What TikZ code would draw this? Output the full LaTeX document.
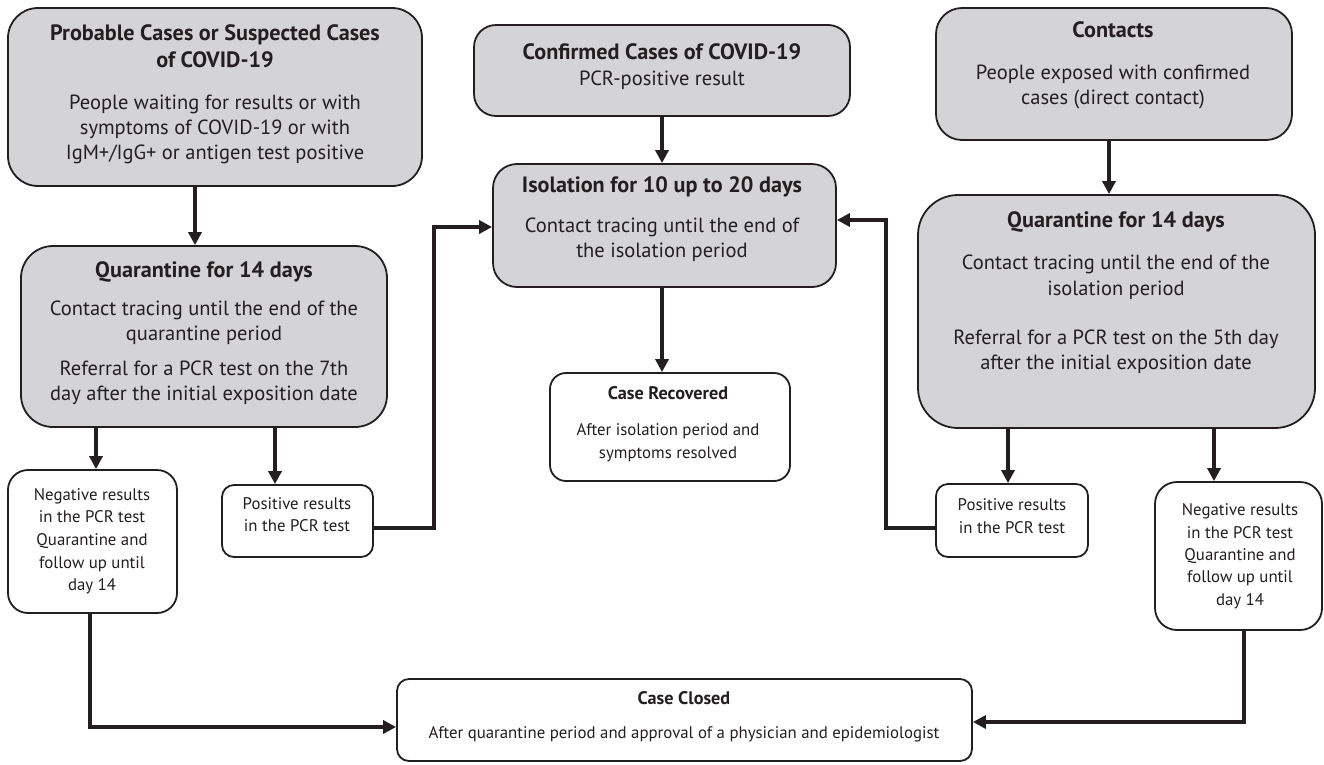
\documentclass[tikz,border=0pt]{standalone}
\usepackage{fontspec}
\setmainfont{PT Sans}
\usetikzlibrary{arrows.meta,fit}
\definecolor{ink}{RGB}{35,31,32}
\definecolor{boxgray}{RGB}{212,212,214}
\begin{document}
\begin{tikzpicture}[x=1pt,y=-1pt,
  gbox/.style={draw=ink,line width=1.8pt,fill=boxgray,rounded corners=#1,inner sep=0pt},
  wbox/.style={draw=ink,line width=1.8pt,fill=white,rounded corners=#1,inner sep=0pt},
  big/.style={font=\fontsize{20.5}{25}\selectfont,text=ink,anchor=mid,inner sep=0pt},
  bigb/.style={font=\fontsize{22.2}{25}\selectfont\bfseries,text=ink,anchor=mid,inner sep=0pt},
  small/.style={font=\fontsize{16.8}{22}\selectfont,text=ink,anchor=mid,inner sep=0pt},
  smallb/.style={font=\fontsize{18.2}{22}\selectfont\bfseries,text=ink,anchor=mid,inner sep=0pt},
  conn/.style={draw=ink,line width=4.2pt,-{Triangle[length=13pt,width=13pt]}}
]
\useasboundingbox (0,0) rectangle (1324,764);

% boxes
\node[gbox=30pt,fit={(8,8) (422,186)}] (prob) {};
\node[gbox=32pt,fit={(21,246) (387,427)}] (ql) {};
\node[gbox=22pt,fit={(474,25) (850,116)}] (conf) {};
\node[gbox=24pt,fit={(493,164) (836,287)}] (iso) {};
\node[wbox=16pt,fit={(550,373) (790,481)}] (rec) {};
\node[gbox=26pt,fit={(936,8) (1292,140)}] (cont) {};
\node[gbox=40pt,fit={(918,195) (1315,428)}] (qr) {};
\node[wbox=20pt,fit={(8,470) (177,613)}] (negl) {};
\node[wbox=12pt,fit={(222,485) (373,557)}] (posl) {};
\node[wbox=12pt,fit={(936,484) (1088,557)}] (posr) {};
\node[wbox=22pt,fit={(1155,482) (1322,630)}] (negr) {};
\node[wbox=12pt,fit={(397,679) (972,761)}] (closed) {};

% texts
\node[bigb] (p1) at (215,38) {Probable Cases or Suspected Cases};
\node[bigb] (p2) at (215,65) {of COVID-19};
\node[big] (p3) at (215,107) {People waiting for results or with};
\node[big] (p4) at (215,132) {symptoms of COVID-19 or with};
\node[big] (p5) at (215,157) {IgM+/IgG+ or antigen test positive};

\node[bigb] (q1) at (204,275) {Quarantine for 14 days};
\node[big] (q2) at (204,313) {Contact tracing until the end of the};
\node[big] (q3) at (204,338) {quarantine period};
\node[big] (q4) at (204,373) {Referral for a PCR test on the 7th};
\node[big] (q5) at (204,398) {day after the initial exposition date};

\node[bigb] (c1) at (662,57) {Confirmed Cases of COVID-19};
\node[big] (c2) at (662,83) {PCR-positive result};

\node[bigb] (i1) at (662,190) {Isolation for 10 up to 20 days};
\node[big] (i2) at (662,230) {Contact tracing until the end of};
\node[big] (i3) at (662,255) {the isolation period};

\node[smallb] (r1) at (668,397) {Case Recovered};
\node[small] (r2) at (668,433) {After isolation period and};
\node[small] (r3) at (668,456) {symptoms resolved};

\node[bigb] (k1) at (1113,35) {Contacts};
\node[big] (k2) at (1113,77) {People exposed with confirmed};
\node[big] (k3) at (1113,102) {cases (direct contact)};

\node[bigb] (u1) at (1116,225) {Quarantine for 14 days};
\node[big] (u2) at (1116,267) {Contact tracing until the end of the};
\node[big] (u3) at (1116,293) {isolation period};
\node[big] (u4) at (1116,342) {Referral for a PCR test on the 5th day};
\node[big] (u5) at (1116,367) {after the initial exposition date};

\node[small] (nl1) at (92,498) {Negative results};
\node[small] (nl2) at (92,520) {in the PCR test};
\node[small] (nl3) at (92,543) {Quarantine and};
\node[small] (nl4) at (92,566) {follow up until};
\node[small] (nl5) at (92,588) {day 14};

\node[small] (pl1) at (297,507) {Positive results};
\node[small] (pl2) at (297,529) {in the PCR test};

\node[small] (pr1) at (1012,508) {Positive results};
\node[small] (pr2) at (1012,531) {in the PCR test};

\node[small] (nr1) at (1240,513) {Negative results};
\node[small] (nr2) at (1240,536) {in the PCR test};
\node[small] (nr3) at (1240,558) {Quarantine and};
\node[small] (nr4) at (1240,580) {follow up until};
\node[small] (nr5) at (1240,603) {day 14};

\node[smallb] (cc1) at (684,702) {Case Closed};
\node[small] (cc2) at (684,736) {After quarantine period and approval of a physician and epidemiologist};

% connectors
\coordinate (jl1) at (434,528);
\coordinate (jl2) at (434,227);
\coordinate (jr1) at (886,528);
\coordinate (jr2) at (886,220);
\coordinate (bl) at (90,727);
\coordinate (br) at (1244,722);

\draw[conn] (195,0 |- prob.south) -- (195,0 |- ql.north);
\draw[conn] (96,0 |- ql.south) -- (96,0 |- negl.north);
\draw[conn] (275,0 |- ql.south) -- (275,0 |- posl.north);
\draw[conn] (posl.east |- jl1) -- (jl1) -- (jl2) -- (iso.west |- jl2);
\draw[conn] (662,0 |- conf.south) -- (662,0 |- iso.north);
\draw[conn] (662,0 |- iso.south) -- (662,0 |- rec.north);
\draw[conn] (1109,0 |- cont.south) -- (1109,0 |- qr.north);
\draw[conn] (1008,0 |- qr.south) -- (1008,0 |- posr.north);
\draw[conn] (1214,0 |- qr.south) -- (1214,0 |- negr.north);
\draw[conn] (posr.west |- jr1) -- (jr1) -- (jr2) -- (iso.east |- jr2);
\draw[conn] (bl |- negl.south) -- (bl) -- (closed.west |- bl);
\draw[conn] (br |- negr.south) -- (br) -- (closed.east |- br);
\end{tikzpicture}
\end{document}
